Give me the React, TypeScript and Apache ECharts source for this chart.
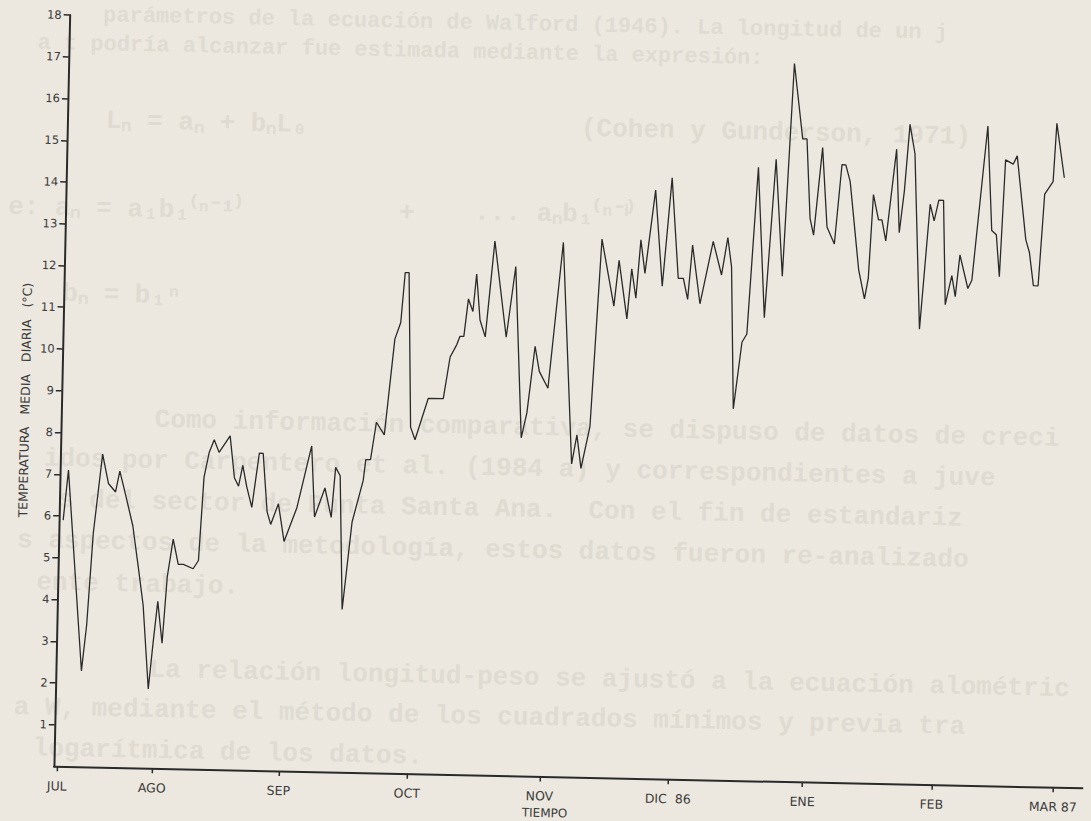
import React, { useEffect, useRef } from "react";
import * as echarts from "echarts";

// Daily mean temperature, days counted from 1 July 1986
const days = [
  10.4, 11.4, 15.4, 16.4, 17.5, 19.3, 20.8, 22.5, 23.4, 24.7,
  26.7, 28.2, 29.5, 31.1, 32.0, 32.9, 34.1, 35.0, 36.2, 37.5,
  38.7, 41.0, 42.2, 43.1, 44.2, 45.3, 46.5, 49.0, 50.2, 51.2,
  52.1, 53.1, 54.4, 55.9, 56.8, 58.0, 58.9, 60.6, 62.1, 64.9,
  68.1, 69.1, 71.4, 73.0, 73.8, 74.9, 76.0, 77.9, 80.3, 80.8,
  81.9, 83.1, 85.0, 87.0, 88.3, 89.1, 90.0, 91.1, 92.2, 95.1,
  98.6, 100.0, 101.5, 102.2, 103.1, 104.0, 105.1, 105.8, 106.8, 108.1,
  109.9, 113.0, 114.9, 117.0, 118.2, 119.8, 120.9, 123.0, 125.9, 128.9,
  130.0, 131.1, 133.0, 134.9, 138.0, 139.0, 141.1, 142.0, 143.1, 144.0,
  145.1, 147.2, 149.2, 151.0, 152.9, 154.1, 155.2, 156.1, 158.1, 160.9,
  163.0, 164.3, 165.3, 166.4, 168.1, 169.2, 171.1, 173.2, 175.2, 177.2,
  179.0, 181.3, 182.3, 183.4, 184.3, 186.0, 187.4, 189.2, 190.6, 191.5,
  192.6, 195.0, 196.5, 197.3, 198.1, 199.4, 200.2, 201.2, 203.3, 204.3,
  205.3, 206.3, 207.6, 209.5, 211.4, 212.4, 213.4, 214.5, 215.4, 216.8,
  217.7, 218.6, 220.6, 221.5, 224.5, 225.9, 227.0, 227.9, 228.8, 230.6,
  231.5, 233.9, 234.8, 235.9, 237.0, 238.1, 240.0, 240.6, 242.6,
];

const temps = [
  5.9, 7.1, 2.3, 3.4, 5.6, 7.5, 6.8, 6.6, 7.1, 6.6,
  5.8, 4.8, 3.9, 1.9, 3.0, 4.0, 3.0, 4.6, 5.5, 4.9,
  4.9, 4.8, 5.0, 7.0, 7.6, 7.9, 7.6, 8.0, 7.0, 6.8,
  7.3, 6.8, 6.3, 7.6, 7.6, 6.2, 5.9, 6.4, 5.5, 6.3,
  7.8, 6.1, 6.8, 6.1, 7.3, 7.1, 3.9, 6.0, 7.0, 7.5,
  7.5, 8.4, 8.1, 10.4, 10.8, 12.0, 12.0, 8.3, 8.0, 9.0,
  9.0, 10.0, 10.3, 10.5, 10.5, 11.4, 11.1, 12.0, 10.9, 10.5,
  12.8, 10.5, 12.2, 8.1, 8.7, 10.3, 9.7, 9.3, 12.8, 7.5,
  8.2, 7.4, 8.4, 12.9, 11.3, 12.4, 11.0, 12.2, 11.5, 12.9,
  12.1, 14.1, 11.8, 14.4, 12.0, 12.0, 11.5, 12.8, 11.4, 12.9,
  12.1, 13.0, 12.3, 8.9, 10.5, 10.7, 14.7, 11.1, 14.9, 12.1,
  17.2, 15.4, 15.4, 13.5, 13.1, 15.2, 13.3, 12.9, 14.8, 14.8,
  14.4, 12.3, 11.6, 12.1, 14.1, 13.5, 13.5, 13.0, 15.2, 13.2,
  14.2, 15.8, 15.1, 10.9, 13.9, 13.5, 14.0, 14.0, 11.5, 12.2,
  11.7, 12.7, 11.9, 12.1, 15.8, 13.3, 13.2, 12.2, 15.0, 14.9,
  15.1, 13.1, 12.8, 12.0, 12.0, 14.2, 14.5, 15.9, 14.6,
];

// Month marks on the time axis
const monthTicks = [10.2, 32.4, 62, 92, 123, 153, 184.4, 214.6, 243];
const monthLabels = ["JUL", "AGO", "SEP", "OCT", "NOV", "DIC  86", "ENE", "FEB", "MAR 87"];

const yTicks = [1, 2, 3, 4, 5, 6, 7, 8, 9, 10, 11, 12, 13, 14, 15, 16, 17, 18];

// Faint typewritten text showing through the paper
const pageLines = [
  { x: 95, y: 25, size: 22, text: "parámetros de la ecuación de Walford (1946). La longitud de un j" },
  { x: 30, y: 54, size: 22, text: "a t podría alcanzar fue estimada mediante la expresión:" },
  { x: 100, y: 130, size: 26, text: "Lₙ = aₙ + bₙL₀" },
  { x: 575, y: 128, size: 26, text: "(Cohen y Gunderson, 1971)" },
  { x: 4, y: 218, size: 26, text: "e: aₙ = a₁b₁⁽ⁿ⁻¹⁾" },
  { x: 395, y: 216, size: 26, text: "+" },
  { x: 470, y: 214, size: 26, text: "... aₙb₁⁽ⁿ⁻ⁱ⁾" },
  { x: 60, y: 304, size: 26, text: "bₙ = b₁ⁿ" },
  { x: 155, y: 428, size: 26, text: "Como información comparativa, se dispuso de datos de creci" },
  { x: 45, y: 469, size: 26, text: "idos por Carpentero et al. (1984 a) y correspondientes a juve" },
  { x: 60, y: 510, size: 26, text: "s del sector de Punta Santa Ana.  Con el fin de estandariz" },
  { x: 20, y: 551, size: 26, text: "s aspectos de la metodología, estos datos fueron re-analizado" },
  { x: 40, y: 593, size: 26, text: "ente trabajo." },
  { x: 155, y: 678, size: 26, text: "La relación longitud-peso se ajustó a la ecuación alométric" },
  { x: 20, y: 718, size: 26, text: "a W, mediante el método de los cuadrados mínimos y previa tra" },
  { x: 40, y: 759, size: 26, text: "logarítmica de los datos." },
];

const BG = "#ece8df";
const INK = "#2a2a2a";
const LABEL = "#3b3b3b";
const SHOW_THROUGH = "#e0dbd2";

export default function App() {
  const ref = useRef<HTMLDivElement>(null);

  useEffect(() => {
    document.body.style.margin = "0";
    document.body.style.background = BG;
    document.body.style.overflow = "hidden";
    const chart = echarts.init(ref.current!, null, { renderer: "svg" });

    const points = days.map((d, i) => [d, temps[i]]);

    chart.setOption({
      animation: false,
      backgroundColor: "transparent",
      grid: { left: 61.5, right: 0, top: 25, bottom: 44.5, containLabel: false },
      xAxis: {
        type: "value",
        min: 9.45,
        max: 250,
        splitLine: { show: false },
        axisLine: { show: true, lineStyle: { color: INK, width: 2 } },
        axisTick: {
          show: true,
          customValues: monthTicks,
          length: 5,
          lineStyle: { color: INK, width: 1.5 },
        },
        axisLabel: {
          customValues: monthTicks,
          margin: 13,
          fontSize: 12.5,
          fontFamily: "DejaVu Sans",
          color: LABEL,
          formatter: (v: number) => {
            let best = 0;
            monthTicks.forEach((t, i) => {
              if (Math.abs(t - v) < Math.abs(monthTicks[best] - v)) best = i;
            });
            return monthLabels[best];
          },
        },
      },
      yAxis: {
        type: "value",
        min: 0,
        max: 18,
        interval: 1,
        splitLine: { show: false },
        axisLine: { show: true, lineStyle: { color: INK, width: 2 } },
        axisTick: {
          show: true,
          customValues: yTicks,
          length: 6,
          lineStyle: { color: INK, width: 1.5 },
        },
        axisLabel: {
          customValues: yTicks,
          margin: 8,
          fontSize: 11.5,
          fontFamily: "DejaVu Sans",
          color: LABEL,
        },
      },
      graphic: [
        ...pageLines.map((l) => ({
          type: "text",
          x: l.x,
          y: l.y,
          z: 0,
          silent: true,
          style: {
            text: l.text,
            fill: SHOW_THROUGH,
            fontSize: l.size,
            fontWeight: "bold",
            fontFamily: "Liberation Mono",
            verticalAlign: "middle",
            align: "left",
          },
        })),
        {
          type: "text",
          x: 25,
          y: 411,
          rotation: Math.PI / 2,
          z: 5,
          style: {
            text: "TEMPERATURA   MEDIA   DIARIA   (°C)",
            fill: LABEL,
            fontSize: 12.5,
            fontFamily: "DejaVu Sans",
            align: "center",
            verticalAlign: "middle",
          },
        },
        {
          type: "text",
          x: 553,
          y: 813,
          z: 5,
          style: {
            text: "TIEMPO",
            fill: LABEL,
            fontSize: 12,
            fontFamily: "DejaVu Sans",
            align: "center",
            verticalAlign: "middle",
          },
        },
      ],
      series: [
        {
          type: "line",
          data: points,
          showSymbol: false,
          z: 3,
          lineStyle: { color: INK, width: 1.3 },
        },
      ],
    });

    return () => chart.dispose();
  }, []);

  return (
    <div style={{ width: 1091, height: 821, background: BG, overflow: "hidden" }}>
      <div
        ref={ref}
        style={{ width: 1091, height: 821, transform: "rotate(1.2deg)" }}
      />
    </div>
  );
}
